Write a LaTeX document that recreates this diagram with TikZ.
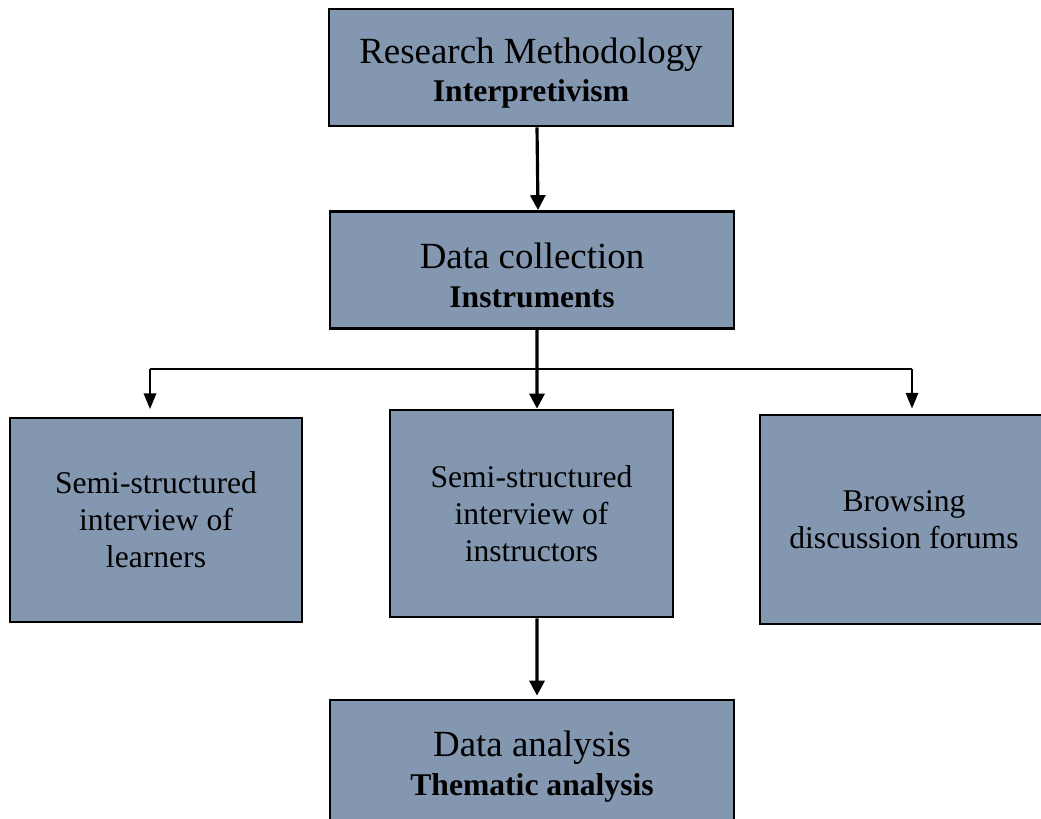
\documentclass[tikz,border=0pt]{standalone}
\usepackage{fontspec}
\setmainfont{Liberation Serif}
\usetikzlibrary{positioning,arrows.meta}
\definecolor{boxblue}{RGB}{132,151,176}

\begin{document}
\begin{tikzpicture}[x=0.02cm, y=-0.02cm,
    bigbox/.style={draw, line width=1.6pt, fill=boxblue, minimum width=8.08cm,
        minimum height=2.34cm, align=center, inner sep=0pt, text height=43pt,
        font=\fontsize{21}{22}\selectfont},
    smallbox/.style={draw, line width=1.6pt, fill=boxblue, minimum height=4.12cm,
        align=center, inner sep=0pt, font=\fontsize{18}{21}\selectfont},
    mainarrow/.style={-{Triangle[length=8.5pt,width=8.5pt]}, line width=1.8pt},
    branch/.style={line width=1.2pt},
    sidearrow/.style={-{Triangle[length=9pt,width=7pt]}, line width=1.4pt}]

        \useasboundingbox (0,0) rectangle (1041,818);
        \clip (0,0) rectangle (1041,818);

        % the three stages down the middle
        \node[bigbox] (method) at (531,67.5)
            {Research Methodology\\
             {\fontsize{18}{22}\selectfont\bfseries Interpretivism}};

        \node[bigbox] (collect) at (532,270)
            {Data collection\\
             {\fontsize{18}{22}\selectfont\bfseries Instruments}};

        \node[bigbox, minimum height=2.64cm, text height=37pt] (analysis) at (532,766)
            {Data analysis\\
             {\fontsize{18}{22}\selectfont\bfseries Thematic analysis}};

        % the three instruments
        \node[smallbox, minimum width=5.84cm, minimum height=4.08cm] (learners) at (156,520)
            {Semi-structured\\ interview of\\ learners};

        \node[smallbox, minimum width=5.66cm, minimum height=4.14cm] (instructors) at (531.5,513.5)
            {Semi-structured\\ interview of\\ instructors};

        \node[smallbox, minimum width=5.76cm, minimum height=4.18cm] (forums) at (904,519.5)
            {Browsing\\ discussion forums};

        % fork under the data collection box
        \coordinate (forkL) at (150,369);
        \coordinate (forkR) at (912,369);

        \draw[mainarrow] ([xshift=0.12cm]method.south) -- ([xshift=0.12cm]collect.north);
        \draw[mainarrow] ([xshift=0.1cm]collect.south) -- ([xshift=0.11cm]instructors.north);
        \draw[branch] (forkL) -- (forkR);
        \draw[sidearrow, shorten >=0.15cm] (forkL) -- (forkL |- learners.north);
        \draw[sidearrow, shorten >=0.1cm] (forkR) -- (forkR |- forums.north);
        \draw[mainarrow, shorten >=0.06cm] ([xshift=0.11cm]instructors.south) -- ([xshift=0.1cm]analysis.north);

    \end{tikzpicture}
\end{document}
